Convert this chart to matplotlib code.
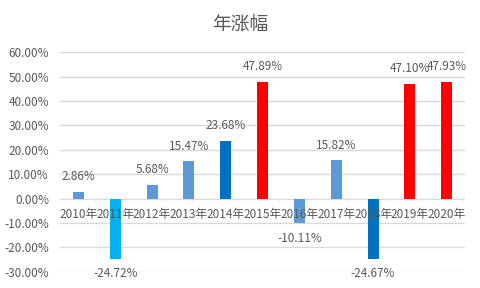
import matplotlib.pyplot as plt
from matplotlib.ticker import FuncFormatter

plt.rcParams['font.family'] = ['Noto Sans CJK SC', 'DejaVu Sans']

years = ["2010年", "2011年", "2012年", "2013年", "2014年", "2015年",
         "2016年", "2017年", "2018年", "2019年", "2020年"]
returns = [2.86, -24.72, 5.68, 15.47, 23.68, 47.89,
           -10.11, 15.82, -24.67, 47.10, 47.93]
bar_colors = ["#5B9BD5", "#00B0F0", "#5B9BD5", "#5B9BD5", "#0070C0", "#FF0000",
              "#5B9BD5", "#5B9BD5", "#0070C0", "#FF0000", "#FF0000"]

TEXT = "#595959"

fig = plt.figure(figsize=(4.8, 2.88), dpi=100)
ax = fig.add_axes([0.125, 0.056, 0.844, 0.763])

x = list(range(len(years)))
vals = [v / 100 for v in returns]
ax.bar(x, vals, width=0.3, color=bar_colors, zorder=3)

for xi, v in zip(x, vals):
    if v >= 0:
        ax.annotate(f"{v*100:.2f}%", (xi, v), xytext=(0, 6), textcoords="offset points",
                    ha="center", va="bottom", fontsize=8.5, color=TEXT)
    else:
        ax.annotate(f"{v*100:.2f}%", (xi, v), xytext=(0, -6), textcoords="offset points",
                    ha="center", va="top", fontsize=8.5, color=TEXT)

# category labels sit just under the zero line, drawn over the bars
for xi, lab in zip(x, years):
    ax.annotate(lab, (xi, 0), xytext=(0, -7), textcoords="offset points",
                ha="center", va="top", fontsize=8.5, color=TEXT, zorder=5)

ax.set_ylim(-0.3, 0.6)
ax.set_xlim(-0.5, len(years) - 0.5)
ax.set_yticks([i / 10 for i in range(-3, 7)])
ax.yaxis.set_major_formatter(FuncFormatter(lambda v, _: f"{v*100:.2f}%"))
ax.grid(axis="y", color="#D9D9D9", linewidth=1, zorder=0)
ax.set_axisbelow(True)

ax.set_xticks([])
for s in ["top", "right", "left", "bottom"]:
    ax.spines[s].set_visible(False)
ax.tick_params(axis="y", length=0, labelsize=8.5, labelcolor=TEXT, pad=8)

fig.text(0.5, 0.915, "年涨幅", ha="center", va="center", fontsize=13.5, color=TEXT)

fig.savefig("out.png", dpi=100)
